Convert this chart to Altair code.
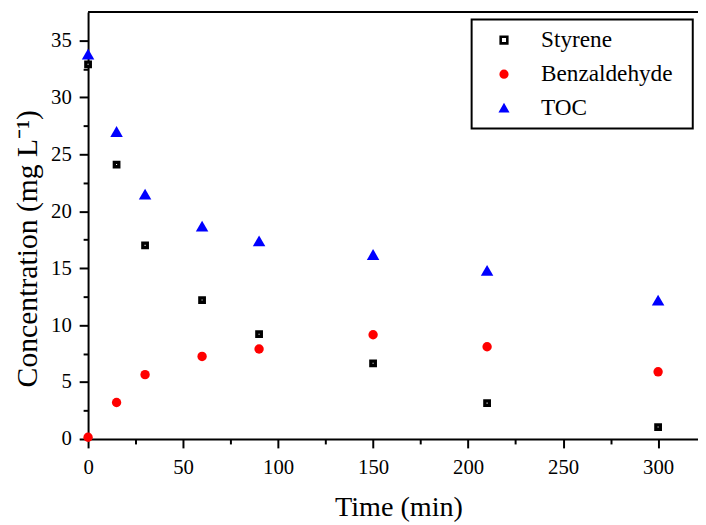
import altair as alt
import pandas as pd

# ---- data ----
time_min = [0, 15, 30, 60, 90, 150, 210, 300]
styrene = [32.9, 24.1, 17.0, 12.2, 9.2, 6.65, 3.15, 1.05]
benzaldehyde = [0.15, 3.2, 5.65, 7.25, 7.9, 9.15, 8.1, 5.9]
toc = [33.8, 27.0, 21.5, 18.7, 17.4, 16.2, 14.8, 12.2]

series_names = ["Styrene", "Benzaldehyde", "TOC"]
series_shapes = ["square", "circle", "triangle-up"]
series_fills = ["#ffffff", "#ff0000", "#0000ff"]
series_strokes = ["#000000", "#ff0000", "#0000ff"]
series_sizes = [20, 90, 160]
series_stroke_widths = [3.4, 0, 0]

x_ticks = [0, 25, 50, 75, 100, 125, 150, 175, 200, 225, 250, 275, 300]
y_ticks = [0, 2.5, 5, 7.5, 10, 12.5, 15, 17.5, 20, 22.5, 25, 27.5, 30, 32.5, 35]

rows = []
for name, vals in zip(series_names, [styrene, benzaldehyde, toc]):
    for t, v in zip(time_min, vals):
        rows.append({"time": t, "conc": v, "series": name})
df = pd.DataFrame(rows)

FONT = "Liberation Serif"
W, H = 617, 432

x_enc = alt.X(
    "time:Q",
    scale=alt.Scale(domain=[0, 321], nice=False, zero=False),
    axis=alt.Axis(
        values=x_ticks,
        labelExpr="datum.value % 50 === 0 ? datum.label : ''",
        tickSize={"condition": {"test": "datum.value % 50 === 0", "value": 9}, "value": 5},
        labelFlush=False,
        labelOverlap=False,
        labelPadding=9,
        labelFont=FONT,
        labelFontSize=21,
        title="Time (min)",
        titleFont=FONT,
        titleFontSize=28.5,
        titleX=314,
        titleY=77,
        titleAlign="center",
        titleBaseline="alphabetic",
    ),
)
y_enc = alt.Y(
    "conc:Q",
    scale=alt.Scale(domain=[0, 37.5], nice=False, zero=False),
    axis=alt.Axis(
        values=y_ticks,
        labelExpr="datum.value % 5 === 0 ? datum.label : ''",
        tickSize={"condition": {"test": "datum.value % 5 === 0", "value": 9}, "value": 5},
        labelFlush=False,
        labelOverlap=False,
        labelPadding=8,
        labelFont=FONT,
        labelFontSize=21,
        title="Concentration (mg L\u207b\u00b9)",
        titleFont=FONT,
        titleFontSize=30,
        titleX=-52,
        titleY=239,
        titleAngle=270,
        titleAlign="center",
        titleBaseline="alphabetic",
    ),
)

leg = alt.Legend(title=None, orient="none", legendX=394, legendY=5.7)
shape_enc = alt.Shape("series:N", scale=alt.Scale(domain=series_names, range=series_shapes), legend=leg)
fill_enc = alt.Fill("series:N", scale=alt.Scale(domain=series_names, range=series_fills), legend=leg)
stroke_enc = alt.Stroke("series:N", scale=alt.Scale(domain=series_names, range=series_strokes), legend=leg)

base = alt.Chart(df)

point_layers = []
for name, size, sw in zip(series_names, series_sizes, series_stroke_widths):
    point_layers.append(
        base.transform_filter(alt.datum.series == name)
        .mark_point(filled=True, opacity=1, strokeWidth=sw, size=size)
        .encode(x=x_enc, y=y_enc, shape=shape_enc, fill=fill_enc, stroke=stroke_enc)
    )

frame_df = pd.DataFrame({"v": [0]})
top_border = alt.Chart(frame_df).mark_rule(color="black", strokeWidth=2).encode(
    x=alt.value(0), x2=alt.value(W), y=alt.value(0)
)
legend_box = alt.Chart(frame_df).mark_rect(fill="white", stroke="black", strokeWidth=2).encode(
    x=alt.value(388), x2=alt.value(611.7), y=alt.value(7.7), y2=alt.value(118)
)

chart = (
    alt.layer(top_border, *point_layers, legend_box)
    .properties(
        width=W,
        height=H,
        padding={"left": 81, "top": 1, "right": 0, "bottom": 84},
        autosize=alt.AutoSizeParams(type="none"),
        background="white",
    )
    .configure_view(stroke=None)
    .configure_axis(
        grid=False,
        domainColor="black",
        domainWidth=2,
        tickColor="black",
        tickWidth=2,
        labelFont=FONT,
        labelColor="black",
        titleFont=FONT,
        titleFontWeight="normal",
        titleColor="black",
    )
    .configure_legend(
        padding=11,
        rowPadding=9.5,
        labelFont=FONT,
        labelFontSize=23.5,
        labelColor="black",
        labelLimit=0,
        symbolStrokeWidth=2.6,
        symbolSize=45,
        symbolOffset=4,
        labelOffset=25.7,
    )
)

chart.save("out.html", embed_options={"renderer": "svg", "actions": False})
